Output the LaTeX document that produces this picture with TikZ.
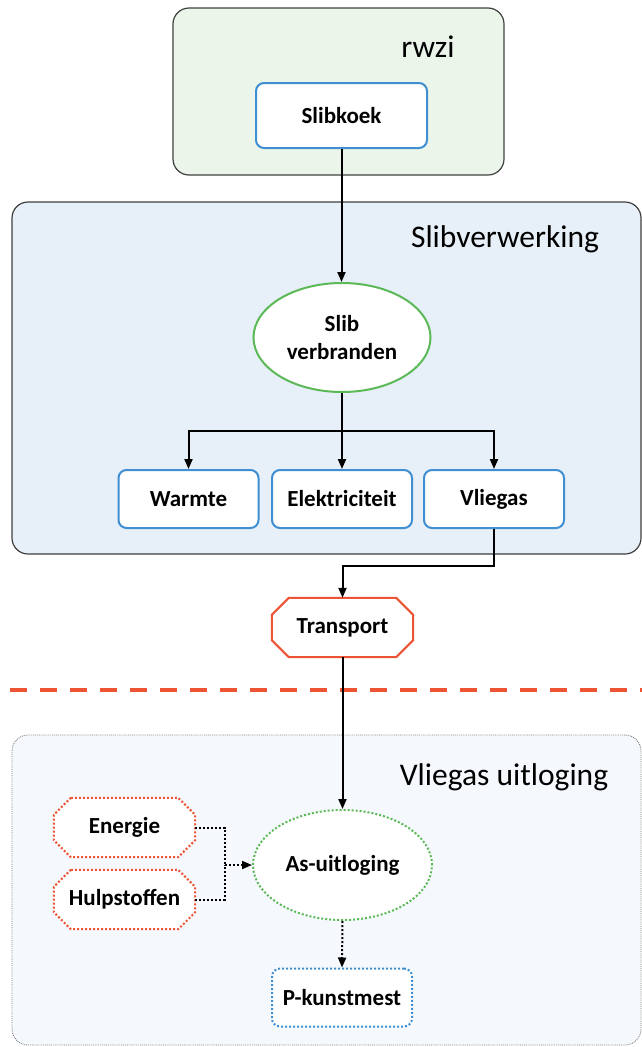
\documentclass[tikz,border=0pt]{standalone}
\usepackage{fontspec}
\setmainfont{Carlito}
\usetikzlibrary{arrows.meta,shapes.geometric}

\definecolor{grpgreen}{HTML}{EBF5EA}
\definecolor{grpblue}{HTML}{E7EFF8}
\definecolor{grplight}{HTML}{F5F9FD}
\definecolor{grpline}{HTML}{404040}
\definecolor{boxblue}{HTML}{3F8FD2}
\definecolor{ellgreen}{HTML}{5CB957}
\definecolor{octred}{HTML}{EC5434}

\pgfdeclarelayer{back}
\pgfdeclarelayer{mid}
\pgfsetlayers{back,mid,main}

% octagon outline around a (rectangular, undrawn) node
\newcommand\octagonoutline[2]{%
  \begin{pgfonlayer}{mid}
  \draw[#1] ([xshift=17pt]#2.north west) -- ([xshift=-17pt]#2.north east)
    -- ([yshift=-17pt]#2.north east) -- ([yshift=17pt]#2.south east)
    -- ([xshift=-17pt]#2.south east) -- ([xshift=17pt]#2.south west)
    -- ([yshift=17pt]#2.south west) -- ([yshift=-17pt]#2.north west) -- cycle;
  \end{pgfonlayer}}

\begin{document}
\begin{tikzpicture}[x=1pt,y=-1pt,
  lbl/.style={font=\fontsize{23}{28}\selectfont\bfseries, align=center, inner sep=0pt},
  heading/.style={font=\fontsize{31.5}{35}\selectfont, inner sep=0pt},
  group/.style={draw=grpline, line width=1.2pt, rounded corners=16pt, inner sep=0pt},
  rbox/.style={lbl, draw=boxblue, line width=2pt, fill=white, rounded corners=8pt,
    minimum width=140pt, minimum height=58pt},
  oval/.style={lbl, ellipse, draw=ellgreen, line width=2pt, fill=white,
    minimum width=177pt, minimum height=109pt},
  octbox/.style={lbl, minimum width=141pt, minimum height=59pt},
  flow/.style={line width=2pt, -{Triangle[length=10pt,width=8pt]}},
  dflow/.style={flow, dotted},
]
\useasboundingbox (0,0) rectangle (642,1047);

% grouping panels
\begin{pgfonlayer}{back}
\node[group, fill=grpgreen, minimum width=331pt, minimum height=167pt] (grprwzi) at (338.5,91.5) {};
\node[group, fill=grpblue, minimum width=629pt, minimum height=352pt] (grpslib) at (326.5,378) {};
\node[group, draw=gray, line width=0.9pt, densely dotted, fill=grplight,
  minimum width=629pt, minimum height=310pt] (grpasl) at (326.5,890) {};
\end{pgfonlayer}

\node[heading] (hrwzi) at (428,47) {rwzi};
\node[heading] (hslib) at (505,239) {Slibverwerking};
\node[heading] (hasl) at (504,777) {Vliegas uitloging};

% process steps
\node[rbox, minimum width=171pt, minimum height=65pt] (slibkoek) at (341.5,115.5) {Slibkoek};
\node[oval] (verbr) at (342,337.5) {Slib\\verbranden};
\node[rbox] (warmte) at (188.5,499) {Warmte};
\node[rbox] (elek) at (342,499) {Elektriciteit};
\node[rbox] (vliegas) at (494,499) {Vliegas};
\node[octbox] (transport) at (342.5,627.5) {Transport};
\node[oval, dotted, minimum width=179pt, minimum height=110pt] (asu) at (342.5,865) {As-uitloging};
\node[octbox] (energie) at (124.5,827.5) {Energie};
\node[octbox] (hulp) at (124.5,899.5) {Hulpstoffen};
\node[rbox, dotted] (pkunst) at (342,997.5) {P-kunstmest};

\octagonoutline{draw=octred, line width=2pt, fill=white}{transport}
\octagonoutline{draw=octred, line width=2pt, dotted, fill=white}{energie}
\octagonoutline{draw=octred, line width=2pt, dotted, fill=white}{hulp}

% boundary between the two sites
\coordinate (cutL) at (10,690);
\coordinate (cutR) at (642,690);
\draw[octred, line width=4pt, dash pattern=on 17pt off 13pt] (cutL) -- (cutR);

% connectors
\coordinate (split) at (342,431);
\coordinate (merge) at (225,865);
\draw[flow] (slibkoek.south) -- (slibkoek.south |- verbr.north);
\draw[line width=2pt] (verbr.south) -- (split);
\draw[flow] (split) -| (warmte.north);
\draw[flow] (split) -| (vliegas.north);
\draw[flow] (split) -- (elek.north);
\draw[flow] (vliegas.south) -- ++(0,37) -| (transport.north);
\draw[flow] (transport.south) -- (asu.north);
\draw[line width=2pt, dotted] (energie.east) -| (merge);
\draw[line width=2pt, dotted] (hulp.east) -| (merge);
\draw[dflow] (merge) -- (asu.west);
\draw[dflow] (asu.south) -- (pkunst.north);
\end{tikzpicture}
\end{document}
